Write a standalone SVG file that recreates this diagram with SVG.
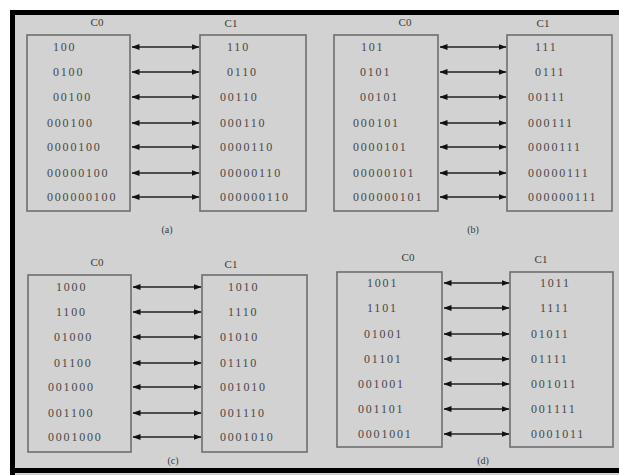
<svg xmlns="http://www.w3.org/2000/svg" width="619" height="475" viewBox="0 0 619 475">
<defs>
<marker id="ah" viewBox="0 0 8 6" refX="7.5" refY="3" markerWidth="8" markerHeight="6" markerUnits="userSpaceOnUse" orient="auto-start-reverse">
<path d="M0,0 L8,3 L0,6 Z" fill="#111"/>
</marker>
</defs>
<style>
.box{fill:#d2d2d2;stroke:#6e6e6e;stroke-width:1.6}
.t{font-family:"Liberation Serif","DejaVu Serif",serif;font-size:12px;letter-spacing:1.8px;fill:#474747}
.h{font-family:"Liberation Serif","DejaVu Serif",serif;font-size:11px;fill:#3a3a3a;text-anchor:middle}
.cap{font-family:"Liberation Serif","DejaVu Serif",serif;font-size:10px;fill:#3a3a3a;text-anchor:middle}
.c line{stroke:#222;stroke-width:1.5;marker-start:url(#ah);marker-end:url(#ah)}
</style>
<rect x="0" y="0" width="619" height="475" fill="#ffffff"/>
<rect x="10" y="10" width="609" height="465" fill="#d2d2d2"/>
<path d="M12.5,475 V12.5 H619 M10,470.5 H619" fill="none" stroke="#000" stroke-width="5"/>

<!-- panel a -->
<g id="a-c0">
<text class="h" x="97" y="26">C0</text>
<rect class="box" x="27" y="35" width="103" height="176"/>
<text class="t" x="53" y="51">100</text>
<text class="t" x="53" y="76">0100</text>
<text class="t" x="53" y="101">00100</text>
<text class="t" x="47" y="127">000100</text>
<text class="t" x="47" y="151">0000100</text>
<text class="t" x="47" y="177">00000100</text>
<text class="t" x="47" y="201">000000100</text>
</g>
<g id="a-c1">
<text class="h" x="231" y="27">C1</text>
<rect class="box" x="200" y="35" width="106" height="176"/>
<text class="t" x="227" y="51">110</text>
<text class="t" x="227" y="76">0110</text>
<text class="t" x="220" y="101">00110</text>
<text class="t" x="220" y="127">000110</text>
<text class="t" x="220" y="151">0000110</text>
<text class="t" x="220" y="177">00000110</text>
<text class="t" x="220" y="201">000000110</text>
</g>
<text class="cap" x="167" y="233">(a)</text>

<!-- panel b -->
<g id="b-c0">
<text class="h" x="405" y="26">C0</text>
<rect class="box" x="334" y="35" width="104" height="176"/>
<text class="t" x="361" y="51">101</text>
<text class="t" x="360" y="76">0101</text>
<text class="t" x="360" y="101">00101</text>
<text class="t" x="353" y="127">000101</text>
<text class="t" x="353" y="151">0000101</text>
<text class="t" x="353" y="177">00000101</text>
<text class="t" x="353" y="201">000000101</text>
</g>
<g id="b-c1">
<text class="h" x="543" y="27">C1</text>
<rect class="box" x="507" y="35" width="105" height="176"/>
<text class="t" x="535" y="51">111</text>
<text class="t" x="535" y="76">0111</text>
<text class="t" x="528" y="101">00111</text>
<text class="t" x="528" y="127">000111</text>
<text class="t" x="528" y="151">0000111</text>
<text class="t" x="528" y="177">00000111</text>
<text class="t" x="528" y="201">000000111</text>
</g>
<text class="cap" x="473" y="233">(b)</text>

<!-- panel c -->
<g id="c-c0">
<text class="h" x="97" y="266">C0</text>
<rect class="box" x="28" y="275" width="103" height="177"/>
<text class="t" x="56" y="291">1000</text>
<text class="t" x="56" y="316">1100</text>
<text class="t" x="54" y="341">01000</text>
<text class="t" x="54" y="367">01100</text>
<text class="t" x="48" y="391">001000</text>
<text class="t" x="48" y="417">001100</text>
<text class="t" x="48" y="441">0001000</text>
</g>
<g id="c-c1">
<text class="h" x="231" y="268">C1</text>
<rect class="box" x="202" y="275" width="105" height="177"/>
<text class="t" x="228" y="291">1010</text>
<text class="t" x="228" y="316">1110</text>
<text class="t" x="220" y="341">01010</text>
<text class="t" x="220" y="367">01110</text>
<text class="t" x="220" y="391">001010</text>
<text class="t" x="220" y="417">001110</text>
<text class="t" x="220" y="441">0001010</text>
</g>
<text class="cap" x="173" y="464">(c)</text>

<!-- panel d -->
<g id="d-c0">
<text class="h" x="408" y="261">C0</text>
<rect class="box" x="337" y="272" width="105" height="175"/>
<text class="t" x="367" y="287">1001</text>
<text class="t" x="367" y="312">1101</text>
<text class="t" x="364" y="338">01001</text>
<text class="t" x="364" y="363">01101</text>
<text class="t" x="358" y="388">001001</text>
<text class="t" x="358" y="413">001101</text>
<text class="t" x="358" y="438">0001001</text>
</g>
<g id="d-c1">
<text class="h" x="541" y="263">C1</text>
<rect class="box" x="510" y="272" width="103" height="175"/>
<text class="t" x="540" y="287">1011</text>
<text class="t" x="540" y="312">1111</text>
<text class="t" x="531" y="338">01011</text>
<text class="t" x="531" y="363">01111</text>
<text class="t" x="531" y="388">001011</text>
<text class="t" x="531" y="413">001111</text>
<text class="t" x="531" y="438">0001011</text>
</g>
<text class="cap" x="483" y="464">(d)</text>

<g id="connectors" class="c">
<line x1="132" y1="47" x2="199" y2="47"/>
<line x1="132" y1="72" x2="199" y2="72"/>
<line x1="132" y1="97" x2="199" y2="97"/>
<line x1="132" y1="123" x2="199" y2="123"/>
<line x1="132" y1="147" x2="199" y2="147"/>
<line x1="132" y1="173" x2="199" y2="173"/>
<line x1="132" y1="197" x2="199" y2="197"/>
<line x1="440" y1="47" x2="506" y2="47"/>
<line x1="440" y1="72" x2="506" y2="72"/>
<line x1="440" y1="97" x2="506" y2="97"/>
<line x1="440" y1="123" x2="506" y2="123"/>
<line x1="440" y1="147" x2="506" y2="147"/>
<line x1="440" y1="173" x2="506" y2="173"/>
<line x1="440" y1="197" x2="506" y2="197"/>
<line x1="133" y1="287" x2="201" y2="287"/>
<line x1="133" y1="312" x2="201" y2="312"/>
<line x1="133" y1="337" x2="201" y2="337"/>
<line x1="133" y1="363" x2="201" y2="363"/>
<line x1="133" y1="387" x2="201" y2="387"/>
<line x1="133" y1="413" x2="201" y2="413"/>
<line x1="133" y1="437" x2="201" y2="437"/>
<line x1="444" y1="283" x2="509" y2="283"/>
<line x1="444" y1="308" x2="509" y2="308"/>
<line x1="444" y1="334" x2="509" y2="334"/>
<line x1="444" y1="359" x2="509" y2="359"/>
<line x1="444" y1="384" x2="509" y2="384"/>
<line x1="444" y1="409" x2="509" y2="409"/>
<line x1="444" y1="434" x2="509" y2="434"/>
</g>
</svg>
